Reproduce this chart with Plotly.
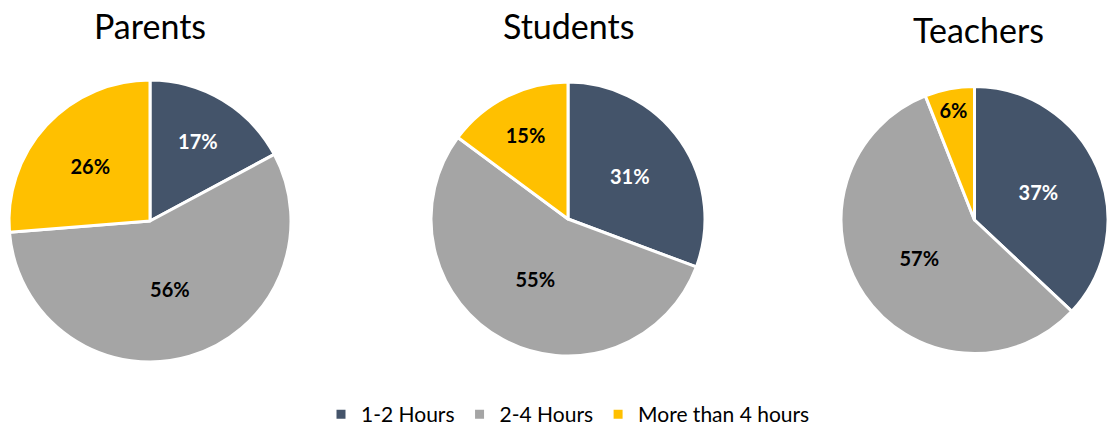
import plotly.graph_objects as go

groups = ["Parents", "Students", "Teachers"]
categories = ["1-2 Hours", "2-4 Hours", "More than 4 hours"]
parents = [17, 56, 26]
students = [31, 55, 15]
teachers = [37, 57, 6]

colors = ["#44546A", "#A5A5A5", "#FFC000"]
text_colors = ["white", "black", "black"]

W, H = 1108, 428

# pie boxes in pixels: (left, right, top, bottom)
boxes = [(9, 291, 80, 362), (431, 705, 82, 356), (841, 1108, 84, 356)]
title_pos = [(150, 26), (568, 26), (978, 29)]

fig = go.Figure()
for name, vals, (l, r, t, b) in zip(groups, [parents, students, teachers], boxes):
    fig.add_trace(go.Pie(
        labels=categories,
        values=vals,
        name=name,
        sort=False,
        direction="clockwise",
        rotation=0,
        marker=dict(colors=colors, line=dict(color="white", width=3)),
        texttemplate="%{value}%",
        textposition="inside",
        insidetextorientation="horizontal",
        insidetextfont=dict(family="Lato", size=20, weight="bold", color=text_colors),
        hoverinfo="label+value",
        domain=dict(x=[l / W, r / W], y=[1 - b / H, 1 - t / H]),
    ))

for name, (x, y) in zip(groups, title_pos):
    fig.add_annotation(
        text=name, x=x / W, y=1 - y / H, xref="paper", yref="paper",
        xanchor="center", yanchor="middle", showarrow=False,
        font=dict(family="Lato", size=34, color="black"),
    )

fig.update_layout(
    width=W,
    height=H,
    margin=dict(l=0, r=0, t=0, b=0, autoexpand=False),
    paper_bgcolor="white",
    plot_bgcolor="white",
    font=dict(family="Lato", color="black"),
    showlegend=True,
    legend=dict(
        orientation="h",
        x=568 / W,
        xanchor="center",
        y=-7 / H,
        yanchor="bottom",
        font=dict(family="Lato", size=21, color="black"),
        itemwidth=30,
    ),
)

# drop the default 8px page margin so the figure sits flush in the window
fig.write_html(
    "out.html",
    config={"displayModeBar": False},
    post_script="document.body.style.margin='0';",
)
